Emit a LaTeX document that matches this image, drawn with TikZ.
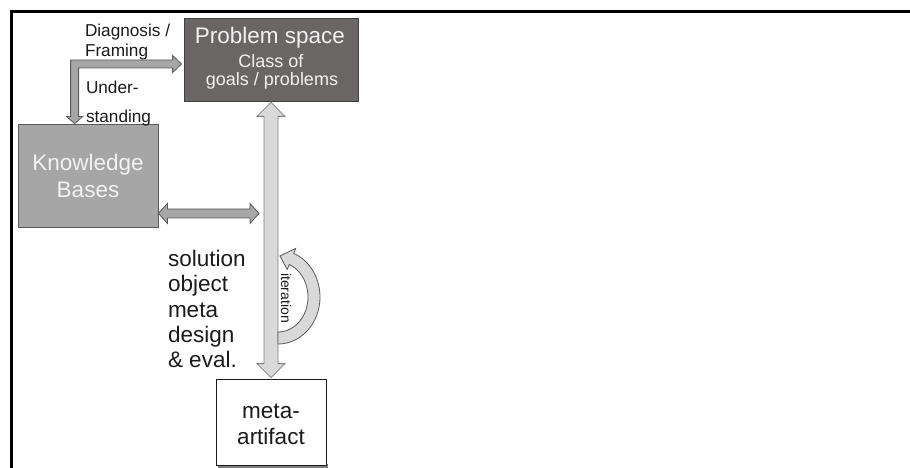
\documentclass[tikz,border=0pt]{standalone}
\usepackage{fontspec}
\setmainfont{Liberation Sans}
\usetikzlibrary{calc}

\definecolor{probfill}{HTML}{6A6666}
\definecolor{probline}{HTML}{404040}
\definecolor{kbfill}{HTML}{A6A6A6}
\definecolor{kbline}{HTML}{5A5A5A}
\definecolor{lightband}{HTML}{D9D9D9}
\definecolor{lightline}{HTML}{7F7F7F}
\definecolor{paletext}{HTML}{F2F2F2}
\definecolor{inktext}{HTML}{1A1A1A}

\tikzset{
  txt/.style={inner sep=0pt, outer sep=0pt},
  bigtxt/.style={txt, font=\fontsize{22.5}{27}\selectfont},
  midtxt/.style={txt, font=\fontsize{18}{22}\selectfont},
  smalltxt/.style={txt, font=\fontsize{17.2}{21}\selectfont},
  tinytxt/.style={txt, font=\fontsize{14}{17}\selectfont},
  probbox/.style={draw=probline, fill=probfill, line width=0.8pt, inner sep=0pt},
  kbbox/.style={draw=kbline, fill=kbfill, line width=0.8pt, inner sep=0pt},
  metabox/.style={draw=inktext, fill=white, line width=0.8pt, inner sep=0pt},
  grayarrow/.style={draw=kbline, fill=kbfill, line width=0.8pt, line join=miter},
  lightarrow/.style={draw=lightline, fill=lightband, line width=0.8pt, line join=miter},
  iterarrow/.style={draw=kbline, fill=lightband, line width=0.8pt, line join=miter},
}

\begin{document}
\begin{tikzpicture}[x=1pt, y=-1pt]
\useasboundingbox (0,0) rectangle (910,468);

% page frame (top and left rules)
\draw[line width=2.6pt, line cap=rect] (11.5,468) -- (11.5,11.5) -- (910,11.5);

% boxes
\node[probbox, minimum width=174pt, minimum height=83pt] (problem) at (271,59.5) {};
\node[kbbox, minimum width=140pt, minimum height=103pt] (kb) at (88,175.5) {};
\fill[lightline] (217.5,464) rectangle (327.5,467.5);
\node[metabox, minimum width=110pt, minimum height=86pt] (meta) at (271,422) {};

% box texts
\node[bigtxt, text=paletext, anchor=base] (ps1) at (270,44) {Problem space};
\node[midtxt, text=paletext, anchor=base] (ps2) at (271,68) {Class of};
\node[midtxt, text=paletext, anchor=base] (ps3) at (272,86) {goals / problems};

\node[bigtxt, text=paletext, anchor=base] (kb1) at (88,170) {Knowledge};
\node[bigtxt, text=paletext, anchor=base] (kb2) at (88,197) {Bases};

\node[bigtxt, text=inktext, anchor=base] (ma1) at (271,418) {meta-};
\node[bigtxt, text=inktext, anchor=base] (ma2) at (271,444) {artifact};

% side labels
\node[smalltxt, text=inktext, anchor=base west] (dg1) at (85,37) {Diagnosis /};
\node[smalltxt, text=inktext, anchor=base west] (dg2) at (85,57) {Framing};
\node[smalltxt, text=inktext, anchor=base west] (un1) at (86,94) {Under-};
\node[smalltxt, text=inktext, anchor=base west] (un2) at (86,123) {standing};

\node[bigtxt, text=inktext, anchor=base west] (so1) at (168,266) {solution};
\node[bigtxt, text=inktext, anchor=base west] (so2) at (168,291.5) {object};
\node[bigtxt, text=inktext, anchor=base west] (so3) at (168,317) {meta};
\node[bigtxt, text=inktext, anchor=base west] (so4) at (168,342) {design};
\node[bigtxt, text=inktext, anchor=base west] (so5) at (168,367) {\& eval.};

% elbow arrow: framing into the problem space, understanding into the knowledge bases
\coordinate (etipv) at ($(kb.north west)+(57,0)$);
\coordinate (etiph) at ($(problem.west)+(-2,4.5)$);
\coordinate (ecorner) at (etipv |- etiph);
\path[grayarrow]
  ($(ecorner)+(-4,-4)$) -- ($(etiph)+(-9,-4)$) -- ++(0,-4.5) -- (etiph)
  -- ($(etiph)+(-9,8.5)$) -- ++(0,-4.5) -- ($(ecorner)+(4,4)$)
  -- ($(etipv)+(4,-7)$) -- ++(4,0) -- (etipv) -- ($(etipv)+(-8,-7)$) -- ++(4,0)
  -- cycle;

% vertical double arrow between problem space and meta-artifact
\coordinate (vt) at ($(problem.south)+(0,1)$);
\coordinate (vb) at ($(meta.north)+(0,-1)$);
\path[lightarrow]
  (vt) -- ++(14,14) -- ++(-7,0) -- ($(vb)+(7,-14)$) -- ++(7,0) -- (vb)
  -- ++(-14,-14) -- ++(7,0) -- ($(vt)+(-7,14)$) -- ++(-7,0) -- cycle;

% horizontal double arrow between knowledge bases and the vertical band
\coordinate (hl) at ($(kb.south east)+(0,-14)$);
\coordinate (hr) at ($(hl -| vt)+(-12,0)$);
\path[grayarrow]
  (hl) -- ++(9,-10) -- ++(0,5.5) -- ($(hr)+(-9,-4.5)$) -- ++(0,-5.5) -- (hr)
  -- ++(-9,10) -- ++(0,-5.5) -- ($(hl)+(9,4.5)$) -- ++(0,5.5) -- cycle;

% curved iteration arrow
\path[iterarrow]
  plot[domain=90:-68, samples=50] ({278+42*cos(\x)},{297+47*sin(\x)})
  -- (295.7,248.4) -- (280,256) -- (287.2,269.5)
  -- plot[domain=-68:90, samples=50] ({278+30*cos(\x)},{297+35*sin(\x)})
  -- cycle;
\node[tinytxt, text=inktext, rotate=-90, anchor=base] (it) at (281,298) {iteration};
\end{tikzpicture}
\end{document}
